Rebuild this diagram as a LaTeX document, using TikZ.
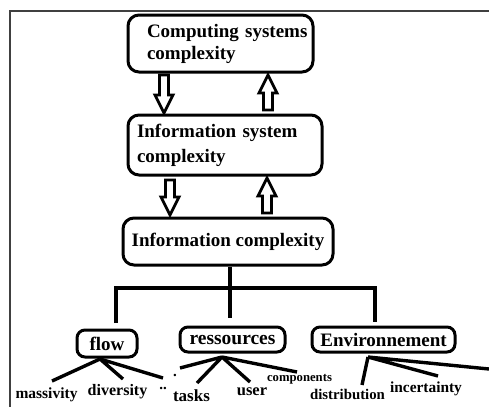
\documentclass[tikz,border=0pt]{standalone}
\usepackage{fontspec}
\setmainfont{Liberation Serif}
\usetikzlibrary{calc}
\newcommand\hollowarrow[2]{%
  \draw[hollow] let \p1=(#1), \p2=(#2), \n1={ifthenelse(\y2>\y1,1,-1)} in
    (\x1-4.5pt,\y1) -- (\x1+4.5pt,\y1) -- (\x1+4.5pt,\y2-\n1*18pt)
    -- (\x1+9pt,\y2-\n1*18pt) -- (\x2,\y2) -- (\x1-9pt,\y2-\n1*18pt)
    -- (\x1-4.5pt,\y2-\n1*18pt) -- cycle;}
\begin{document}
\begin{tikzpicture}[x=1pt,y=-1pt,
  box/.style={draw, line width=3pt, rounded corners=11pt, inner sep=0pt,
    font=\bfseries\fontsize{19}{22}\selectfont},
  branch/.style={line width=3.4pt},
  leaf/.style={inner sep=0pt, anchor=base},
  hollow/.style={line width=2.8pt, line join=miter},
  frame/.style={draw=black!75, line width=1.4pt}]
\useasboundingbox (0,0) rectangle (489,407);

% outer frame
\coordinate (fr-r) at (489,11);
\coordinate (fr-c) at (10,11);
\coordinate (fr-b) at (10,407);
\draw[frame] (fr-r) -- (fr-c) -- (fr-b);

% the three levels
\node[box, minimum width=185pt, minimum height=57pt, text width=147pt,
      inner xsep=19pt, align=left] (cs) at (220.5,43.5)
      {\mbox{Computing systems}\\complexity};
\node[box, minimum width=194pt, minimum height=60pt, text width=176pt,
      inner xsep=9pt, align=left, font=\bfseries\fontsize{19}{25}\selectfont]
      (is) at (225,145) {\mbox{Information system}\\complexity};
\node[box, minimum width=210pt, minimum height=47pt] (ic) at (228,241.5)
      {Information complexity};

% hollow arrows between levels
\coordinate (a1t) at (164,75);  \coordinate (a1h) at (164,113);
\coordinate (a2t) at (268,110); \coordinate (a2h) at (268,75);
\coordinate (a3t) at (170,180); \coordinate (a3h) at (170,215);
\coordinate (a4t) at (267,213); \coordinate (a4h) at (267,178);
\hollowarrow{a1t}{a1h}
\hollowarrow{a2t}{a2h}
\hollowarrow{a3t}{a3h}
\hollowarrow{a4t}{a4h}

% the three components
\node[box, minimum width=60pt, minimum height=27pt, rounded corners=8pt]
      (fl) at (107,343.5) {flow};
\node[box, minimum width=105pt, minimum height=25pt, rounded corners=8pt,
      font=\bfseries\fontsize{19.5}{22}\selectfont]
      (rs) at (232.5,339.5) {ressources};
\node[box, minimum width=143pt, minimum height=25pt, rounded corners=8pt]
      (en) at (383.5,339.5) {Environnement};

% tree branches
\coordinate (tx) at (230,0);
\coordinate (rs-top) at (230,318);
\coordinate (bar-l) at (116,288);
\coordinate (bar-r) at (375,288);
\coordinate (fl-top) at (116,323);
\coordinate (en-top) at (375,322);
\draw[branch] (ic.south -| tx) -- (rs-top);
\draw[branch] (fl-top) -- (bar-l) -- (bar-r) -- (en-top);

% leaves
\node[leaf, font=\bfseries\fontsize{15.5}{18}\selectfont] (massivity) at (46.5,398) {massivity};
\node[leaf, font=\bfseries\fontsize{16}{18}\selectfont] (diversity) at (117.5,395) {diversity};
\node[leaf, font=\bfseries\fontsize{15}{18}\selectfont] (fdots) at (163,389) {..};
\node[leaf, font=\bfseries\fontsize{15}{18}\selectfont] (rdot) at (175,376) {.};
\node[leaf, font=\bfseries\fontsize{17}{18}\selectfont] (tasks) at (191.5,401) {tasks};
\node[leaf, font=\bfseries\fontsize{16.5}{18}\selectfont] (user) at (252,395) {user};
\node[leaf, font=\bfseries\fontsize{12.7}{14}\selectfont] (components) at (299.5,381) {components};
\node[leaf, font=\bfseries\fontsize{14.8}{18}\selectfont] (distribution) at (347.5,399) {distribution};
\node[leaf, font=\bfseries\fontsize{15.4}{18}\selectfont] (incertainty) at (426,392) {incertainty};

% leaf links
\coordinate (flj) at (100,359);
\coordinate (rsj) at (222,357);
\coordinate (enj) at (368,357);
\coordinate (l-mas) at (52,381);
\coordinate (l-div) at (123,379);
\coordinate (l-fdt) at (163,378);
\coordinate (l-rdt) at (180,368);
\coordinate (l-tas) at (197,383);
\coordinate (l-use) at (250,382);
\coordinate (l-com) at (297,372);
\coordinate (l-dis) at (362,385);
\coordinate (l-inc) at (438,376);
\coordinate (l-out) at (489,369);
\draw[branch] (flj) -- (l-mas) (flj) -- (l-div) (flj) -- (l-fdt);
\draw[branch] (rsj) -- (l-rdt) (rsj) -- (l-tas) (rsj) -- (l-use) (rsj) -- (l-com);
\draw[branch] (enj) -- (l-dis) (enj) -- (l-inc) (enj) -- (l-out);
\end{tikzpicture}
\end{document}
